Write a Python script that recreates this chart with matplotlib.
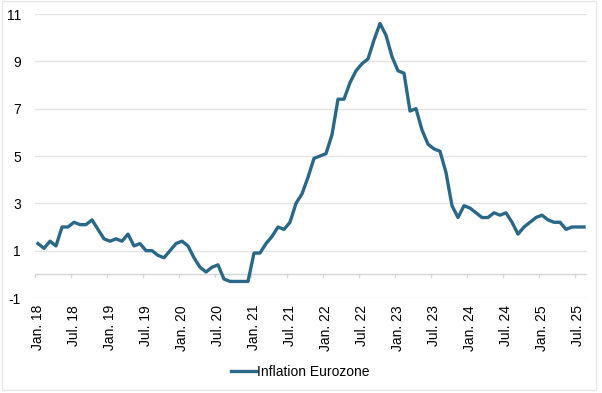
import numpy as np
import matplotlib.pyplot as plt
from matplotlib.patches import Rectangle

# Monthly HICP inflation, Eurozone, Jan 2018 - Aug 2025 (in %)
inflation = [
    1.3, 1.1, 1.4, 1.2, 2.0, 2.0, 2.2, 2.1, 2.1, 2.3, 1.9, 1.5,   # 2018
    1.4, 1.5, 1.4, 1.7, 1.2, 1.3, 1.0, 1.0, 0.8, 0.7, 1.0, 1.3,   # 2019
    1.4, 1.2, 0.7, 0.3, 0.1, 0.3, 0.4, -0.2, -0.3, -0.3, -0.3, -0.3,  # 2020
    0.9, 0.9, 1.3, 1.6, 2.0, 1.9, 2.2, 3.0, 3.4, 4.1, 4.9, 5.0,   # 2021
    5.1, 5.9, 7.4, 7.4, 8.1, 8.6, 8.9, 9.1, 9.9, 10.6, 10.1, 9.2,  # 2022
    8.6, 8.5, 6.9, 7.0, 6.1, 5.5, 5.3, 5.2, 4.3, 2.9, 2.4, 2.9,   # 2023
    2.8, 2.6, 2.4, 2.4, 2.6, 2.5, 2.6, 2.2, 1.7, 2.0, 2.2, 2.4,   # 2024
    2.5, 2.3, 2.2, 2.2, 1.9, 2.0, 2.0, 2.0,                       # 2025
]
tick_labels = ['Jan. 18', 'Jul. 18', 'Jan. 19', 'Jul. 19', 'Jan. 20', 'Jul. 20',
               'Jan. 21', 'Jul. 21', 'Jan. 22', 'Jul. 22', 'Jan. 23', 'Jul. 23',
               'Jan. 24', 'Jul. 24', 'Jan. 25', 'Jul. 25']
y_ticks = [-1, 1, 3, 5, 7, 9, 11]

plt.rcParams['font.family'] = ['Liberation Sans', 'DejaVu Sans']

fig = plt.figure(figsize=(6.02, 3.93), dpi=100)
ax = fig.add_axes([35 / 602, 1 - 298 / 393, 552 / 602, 284 / 393])

x = np.arange(len(inflation))
ax.plot(x, inflation, color='#2b6887', lw=2.4, label='Inflation Eurozone',
        solid_joinstyle='round')

ax.set_xlim(-0.5, len(inflation) - 0.5)
ax.set_ylim(-1, 11)
ax.set_yticks(y_ticks)
ax.set_yticklabels([str(v) for v in y_ticks], fontsize=10)
for v in y_ticks:
    ax.axhline(v, color='#e3e3e3', lw=1, zorder=0)

# zero line with category tick marks
ax.axhline(0, color='#d6d6d6', lw=1, zorder=0)
for b in np.arange(-0.5, len(inflation), 6):
    ax.plot([b, b], [0, -0.12], color='#d6d6d6', lw=1, zorder=0, clip_on=False)

ax.set_xticks(np.arange(0, len(inflation), 6))
ax.set_xticklabels(tick_labels, rotation=90, fontsize=10)
ax.tick_params(axis='x', length=0, pad=5)
ax.tick_params(axis='y', length=0, pad=10)
for s in ax.spines.values():
    s.set_visible(False)

leg = fig.legend(loc='center', bbox_to_anchor=(300 / 602, 1 - 372 / 393),
                 frameon=False, fontsize=10, handlelength=1.8, handletextpad=0.1)

fig.patches.append(Rectangle((2 / 602, 3 / 393), 594 / 602, 389 / 393,
                             transform=fig.transFigure, fill=False,
                             edgecolor='#e6e6e6', lw=1))

fig.savefig('out.png', dpi=100)
